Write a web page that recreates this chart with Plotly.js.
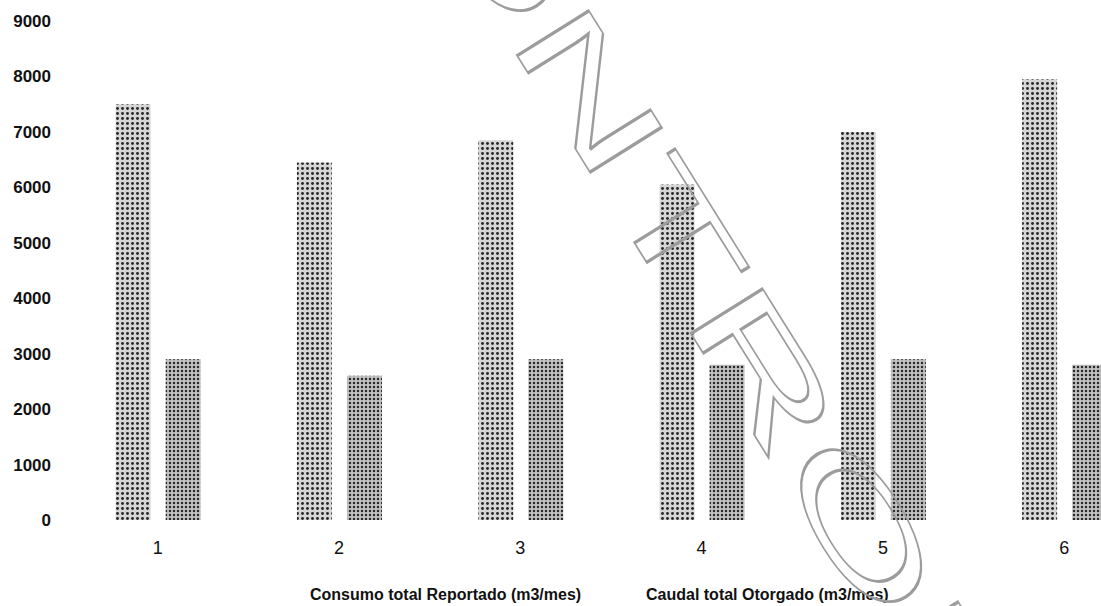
<!DOCTYPE html>
<html>
<head>
<meta charset="utf-8">
<script src="https://cdn.plot.ly/plotly-3.0.1.min.js"></script>
<style>
  html, body { margin: 0; padding: 0; background: #ffffff; }
  #chart { width: 1101px; height: 606px; }
</style>
</head>
<body>
<div id="chart"></div>
<script>
// ---- data ----
const categories = ["1", "2", "3", "4", "5", "6"];
const seriesNames = ["Consumo total Reportado (m3/mes)", "Caudal total Otorgado (m3/mes)"];
const consumoReportado = [7500, 6450, 6850, 6050, 7000, 7950];
const caudalOtorgado = [2900, 2600, 2900, 2800, 2900, 2800];
const yTickValues = [0, 1000, 2000, 3000, 4000, 5000, 6000, 7000, 8000, 9000];
const watermarkText = "CONTROL";

// ---- layout geometry ----
const W = 1101, H = 606;
const M = { l: 60, r: 0, t: 21, b: 85.5 };
const plotW = W - M.l - M.r, plotH = H - M.t - M.b;
const cat0px = 157.7, catStep = 181.3;   // pixel centre of first category and spacing
const xRange = [(M.l - cat0px) / catStep, (W - M.r - cat0px) / catStep];
const px2paperX = px => (px - M.l) / plotW;
const py2paperY = py => (H - M.b - py) / plotH;

const narrow = "'Liberation Sans Narrow', 'Arial Narrow', 'Liberation Sans', Arial, sans-serif";
const regular = "'Liberation Sans', Arial, sans-serif";

const traces = [
  {
    type: "bar",
    name: seriesNames[0],
    x: categories,
    y: consumoReportado,
    offset: -0.232,
    width: 0.193,
    marker: {
      color: "#c4c4c4",
      line: { width: 0 },
      pattern: { shape: ".", fgcolor: "#262626", bgcolor: "#d6d6d6", size: 5, solidity: 0.26 }
    },
    hoverinfo: "skip"
  },
  {
    type: "bar",
    name: seriesNames[1],
    x: categories,
    y: caudalOtorgado,
    offset: 0.044,
    width: 0.193,
    marker: {
      color: "#b0b0b0",
      line: { width: 0 },
      pattern: { shape: ".", fgcolor: "#2a2a2a", bgcolor: "#c2c2c2", size: 4, solidity: 0.3 }
    },
    hoverinfo: "skip"
  }
];

const layout = {
  width: W,
  height: H,
  margin: M,
  paper_bgcolor: "#ffffff",
  plot_bgcolor: "#ffffff",
  showlegend: false,
  barmode: "group",
  xaxis: {
    type: "category",
    range: xRange,
    showgrid: false,
    zeroline: false,
    showline: false,
    ticks: "",
    ticklabelstandoff: 15,
    tickfont: { family: narrow, size: 18, color: "#111111" }
  },
  yaxis: {
    range: [0, 9000],
    tickvals: yTickValues,
    ticktext: yTickValues.map(String),
    showgrid: false,
    zeroline: false,
    showline: false,
    ticks: "",
    ticklabelstandoff: 8,
    tickfont: { family: regular, size: 17, color: "#111111", weight: "bold" }
  },
  annotations: [
    {
      text: seriesNames[0],
      xref: "paper", yref: "paper",
      x: px2paperX(446), y: py2paperY(595),
      xanchor: "center", yanchor: "middle",
      showarrow: false,
      font: { family: narrow, size: 16, color: "#111111", weight: "bold" }
    },
    {
      text: seriesNames[1],
      xref: "paper", yref: "paper",
      x: px2paperX(767.5), y: py2paperY(595),
      xanchor: "center", yanchor: "middle",
      showarrow: false,
      font: { family: narrow, size: 16, color: "#111111", weight: "bold" }
    },
    {
      // scanned-document watermark (outlined, rotated, horizontally stretched)
      text: watermarkText,
      xref: "paper", yref: "paper",
      x: px2paperX(665.4), y: py2paperY(212.7),
      xanchor: "center", yanchor: "middle",
      textangle: 58,
      showarrow: false,
      font: { family: regular, size: 123, color: "#9a9a9a" }
    }
  ]
};

Plotly.newPlot("chart", traces, layout, { displayModeBar: false, staticPlot: true }).then(function (gd) {
  // turn the watermark annotation into outlined, stretched text
  const groups = gd.querySelectorAll("g.annotation");
  groups.forEach(function (g) {
    const t = g.querySelector("text.annotation-text");
    if (!t || t.textContent !== watermarkText) return;
    const tg = g.querySelector("g.annotation-text-g");
    const tr = tg.getAttribute("transform") || "";
    const m = tr.match(/rotate\(\s*([-\d.]+)\s*,\s*([-\d.]+)\s*,\s*([-\d.]+)\s*\)/);
    if (m) {
      const a = +m[1], cx = +m[2], cy = +m[3];
      tg.setAttribute("transform",
        "translate(" + cx + "," + cy + ") rotate(" + a + ") scale(2,1) translate(" + (-cx) + "," + (-cy) + ")");
    }
    t.style.fill = "none";
    t.style.stroke = "#9c9c9c";
    t.style.strokeWidth = "2.6px";
    t.style.vectorEffect = "non-scaling-stroke";
  });
});
</script>
</body>
</html>
